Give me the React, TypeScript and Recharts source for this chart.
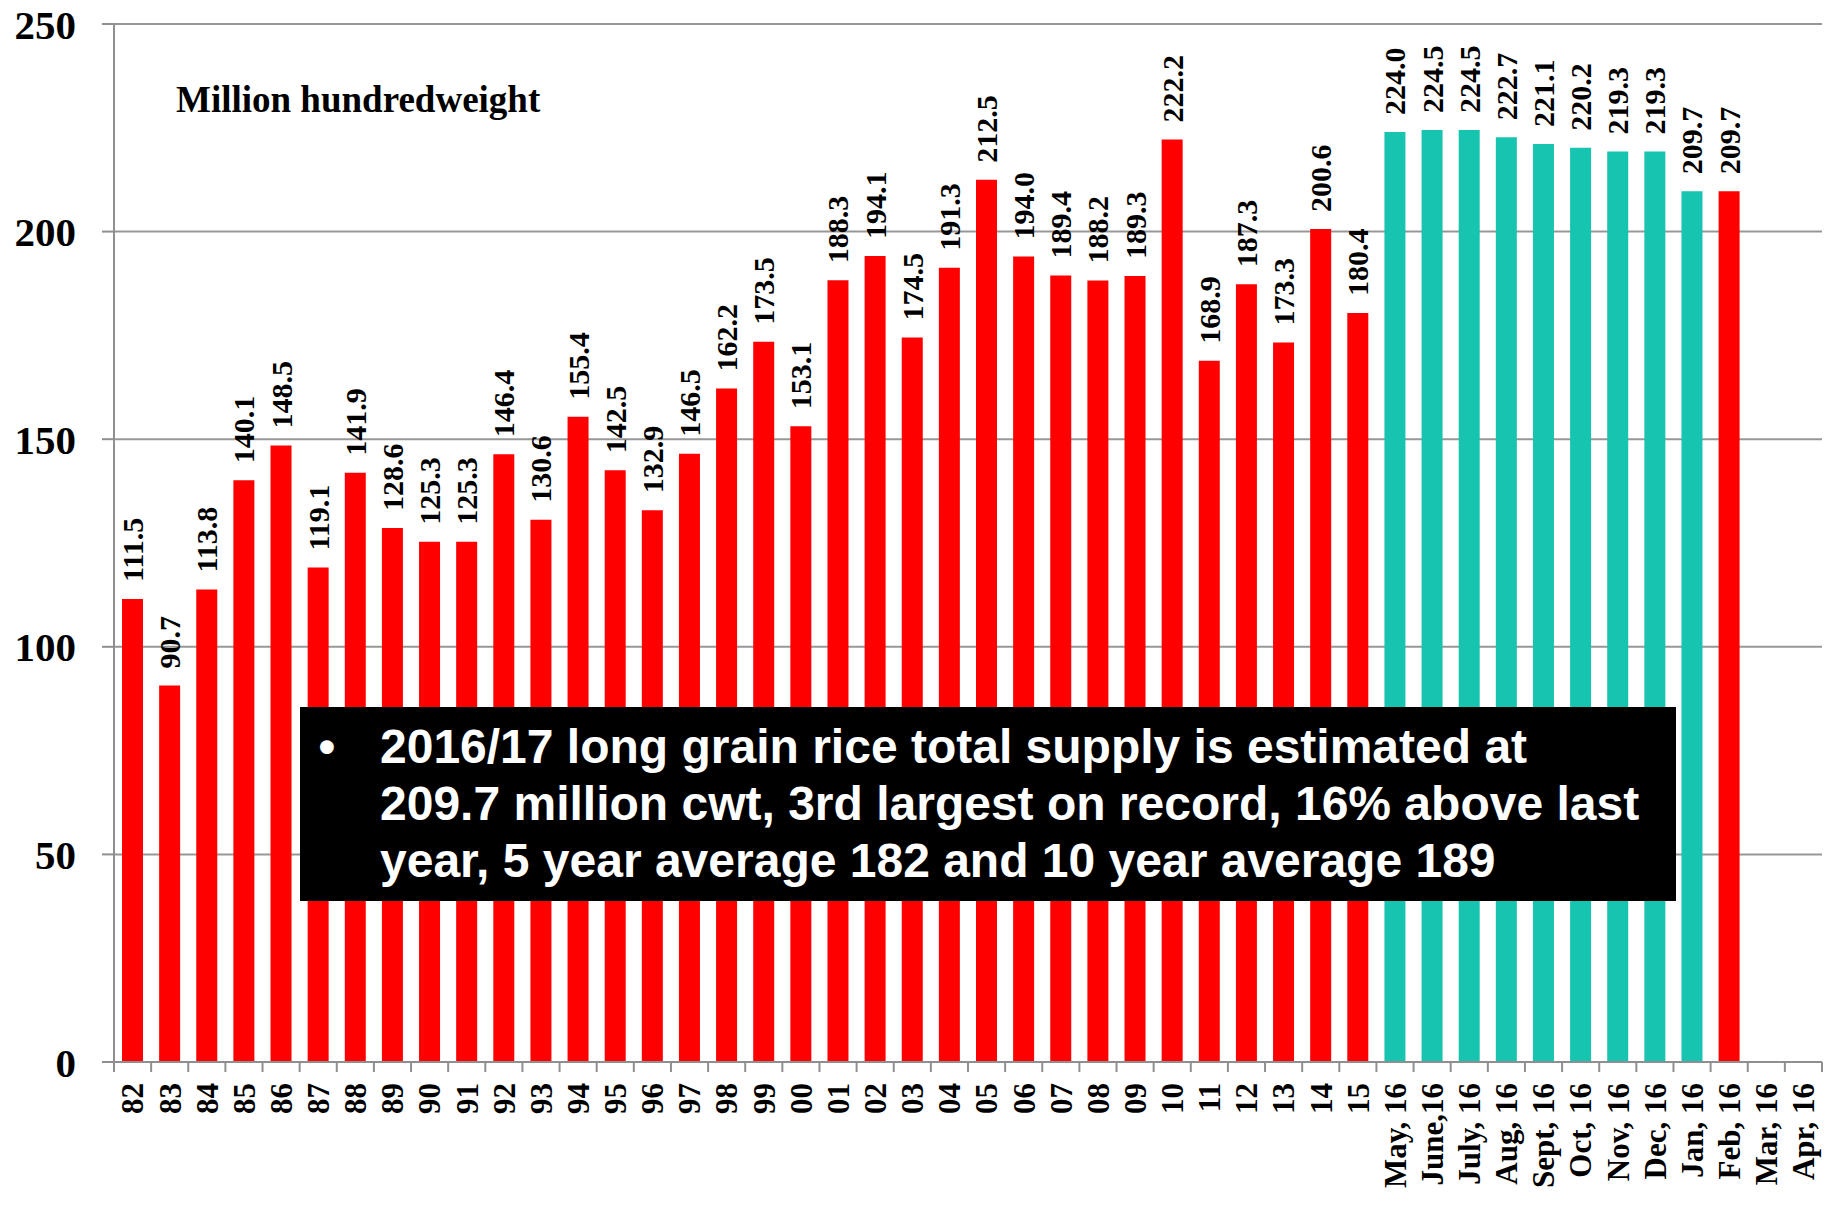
import React from 'react';
import { BarChart, Bar, XAxis, YAxis, CartesianGrid, Cell, LabelList } from 'recharts';

const years = [
  '82', '83', '84', '85', '86', '87', '88', '89', '90', '91', '92', '93', '94', '95', '96', '97', '98', '99',
  '00', '01', '02', '03', '04', '05', '06', '07', '08', '09', '10', '11', '12', '13', '14', '15',
];
const yearValues = [
  111.5, 90.7, 113.8, 140.1, 148.5, 119.1, 141.9, 128.6, 125.3, 125.3, 146.4, 130.6, 155.4, 142.5, 132.9, 146.5, 162.2, 173.5,
  153.1, 188.3, 194.1, 174.5, 191.3, 212.5, 194.0, 189.4, 188.2, 189.3, 222.2, 168.9, 187.3, 173.3, 200.6, 180.4,
];
const months = [
  'May, 16', 'June,16', 'July, 16', 'Aug, 16', 'Sept, 16', 'Oct, 16',
  'Nov, 16', 'Dec, 16', 'Jan, 16', 'Feb, 16', 'Mar, 16', 'Apr, 16',
];
const monthValues: (number | null)[] = [224.0, 224.5, 224.5, 222.7, 221.1, 220.2, 219.3, 219.3, 209.7, 209.7, null, null];
const yTicks = [0, 50, 100, 150, 200, 250];
const noteLines = [
  '2016/17 long grain rice total supply is estimated at',
  '209.7 million cwt, 3rd largest on record, 16% above last',
  'year, 5 year average 182 and 10 year average 189',
];

const RED = '#FF0000';
const TEAL = '#17C4B0';
const GREY = '#8f8f8f';
const SERIF = '"Liberation Serif", "Times New Roman", serif';
const SANS = '"Liberation Sans", Arial, sans-serif';

// last month that has a value is the current estimate, shown red like the annual bars
const lastMonth = monthValues.reduce((acc: number, v, i) => (v != null ? i : acc), -1);

const data = [
  ...years.map((label, i) => ({ label, value: yearValues[i], color: RED })),
  ...months.map((label, i) => ({ label, value: monthValues[i], color: i === lastMonth ? RED : TEAL })),
];

const TICK = 10;
const GAP = 11;

function XTick(props: any) {
  const { x, y, payload, index, visibleTicksCount, width } = props;
  const half = payload.offset || (width && visibleTicksCount ? width / visibleTicksCount / 2 : 18);
  const axisY = y - TICK - GAP;
  return (
    <g>
      <line x1={x - half} x2={x - half} y1={axisY} y2={axisY + TICK} stroke={GREY} strokeWidth={2} />
      {index === visibleTicksCount - 1 && (
        <line x1={x + half} x2={x + half} y1={axisY} y2={axisY + TICK} stroke={GREY} strokeWidth={2} />
      )}
      <text
        x={x}
        y={y}
        transform={`rotate(-90 ${x} ${y})`}
        textAnchor="end"
        dy="0.35em"
        fontFamily={SERIF}
        fontWeight="bold"
        fontSize={31}
        fill="#000"
      >
        {payload.value}
      </text>
    </g>
  );
}

function BarLabel(props: any) {
  const { x, y, width, value } = props;
  if (value == null) return null;
  const cx = x + width / 2;
  const ty = y - 17;
  return (
    <text
      x={cx}
      y={ty}
      transform={`rotate(-90 ${cx} ${ty})`}
      textAnchor="start"
      dy="0.35em"
      fontFamily={SERIF}
      fontWeight="bold"
      fontSize={30}
      fill="#000"
    >
      {Number(value).toFixed(1)}
    </text>
  );
}

export default function App() {
  return (
    <div style={{ position: 'relative', width: 1837, height: 1208, background: '#fff' }}>
      <style>{'body{margin:0}'}</style>
      <BarChart
        width={1837}
        height={1208}
        data={data}
        margin={{ top: 24, right: 15, left: 0, bottom: 0 }}
        barSize={21}
      >
        <CartesianGrid vertical={false} stroke="#979797" strokeWidth={2} />
        <XAxis
          dataKey="label"
          interval={0}
          height={146}
          tick={(p: any) => <XTick {...p} />}
          tickLine={false}
          tickSize={TICK}
          tickMargin={GAP}
          axisLine={{ stroke: GREY, strokeWidth: 2 }}
        />
        <XAxis
          xAxisId="top"
          orientation="top"
          dataKey="label"
          height={0}
          tick={false}
          tickLine={false}
          axisLine={{ stroke: '#000', strokeWidth: 2 }}
        />
        <YAxis
          domain={[0, 250]}
          ticks={yTicks}
          width={114}
          tickSize={12}
          tickMargin={26}
          tickLine={{ stroke: GREY, strokeWidth: 2 }}
          axisLine={{ stroke: GREY, strokeWidth: 2 }}
          tick={{ fontFamily: SERIF, fontWeight: 'bold', fontSize: 41, fill: '#000' }}
        />
        <YAxis
          yAxisId="right"
          orientation="right"
          width={0}
          domain={[0, 250]}
          tick={false}
          tickLine={false}
          axisLine={{ stroke: '#000', strokeWidth: 2 }}
        />
        <Bar dataKey="value" isAnimationActive={false}>
          {data.map((d, i) => (
            <Cell key={i} fill={d.color} />
          ))}
          <LabelList dataKey="value" content={BarLabel} />
        </Bar>
      </BarChart>
      <svg
        width={1837}
        height={1208}
        style={{ position: 'absolute', left: 0, top: 0, pointerEvents: 'none' }}
      >
        <text x={176} y={112} fontFamily={SERIF} fontWeight="bold" fontSize={37} fill="#000">
          Million hundredweight
        </text>
        <rect x={300} y={707} width={1376} height={194} fill="#000" />
        <text x={327} y={763} textAnchor="middle" fontFamily={SANS} fontWeight="bold" fontSize={48} fill="#fff">
          •
        </text>
        {noteLines.map((line, i) => (
          <text key={i} x={380} y={763 + i * 57} fontFamily={SANS} fontWeight="bold" fontSize={48} fill="#fff">
            {line}
          </text>
        ))}
      </svg>
    </div>
  );
}
